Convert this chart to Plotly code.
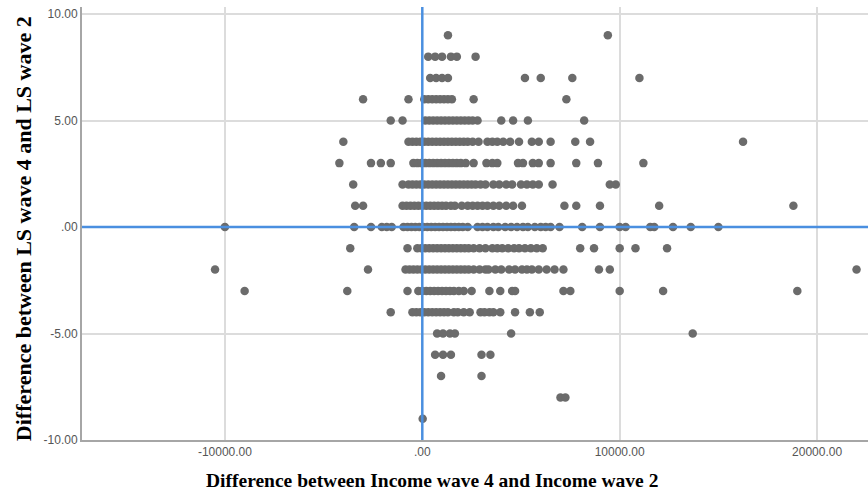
import plotly.graph_objects as go

# Income differences (wave 4 - wave 2), grouped by the LS difference (wave 4 - wave 2)
ls_p9 = [1300, 9400]
ls_p8 = [300, 650, 1000, 1450, 1750, 2700]
ls_p7 = [400, 700, 1000, 1300, 5200, 6000, 7600, 11000]
ls_p6 = [-3000, -700, 100, 300, 500, 700, 900, 1100, 1300, 1500, 2600, 7300]
ls_p5 = [-1600, -1000, 150, 350, 550, 750, 950, 1150, 1350, 1550, 1750, 1950,
         2150, 2350, 2550, 2800, 4000, 4600, 5350, 8200]
ls_p4 = [-4000, -700, -500, -300, -100, 100, 300, 500, 700, 900, 1100, 1300,
         1500, 1700, 1900, 2100, 2300, 2550, 2850, 3300, 3550, 3800, 4100, 4450,
         4900, 5550, 5900, 6500, 7750, 8500, 16250]
ls_p3 = [-4200, -2600, -2100, -1600, -450, -250, -50, 150, 350, 550, 750, 950,
         1150, 1350, 1550, 1750, 1950, 2200, 2600, 3250, 3550, 3800, 4850, 5100,
         5600, 5900, 6500, 7800, 8900, 11200]
ls_p2 = [-3500, -1000, -700, -500, -300, -100, 100, 300, 500, 700, 900, 1100,
         1300, 1500, 1700, 1900, 2100, 2300, 2500, 2700, 2950, 3200, 3600, 3900,
         4250, 4550, 5000, 5300, 5600, 5900, 6600, 9500, 9800]
ls_p1 = [-3400, -3000, -1000, -800, -600, -400, -200, 0, 200, 400, 600, 800,
         1000, 1200, 1450, 1650, 2000, 2300, 2550, 2800, 3050, 3300, 3600, 3900,
         4250, 4600, 5050, 7200, 7800, 9000, 12000, 18800]
ls_0 = [-10000, -3450, -2600, -2050, -1800, -1550, -950, -750, -550, -350, -150,
        50, 250, 450, 650, 850, 1050, 1250, 1450, 1650, 1850, 2050, 2300, 2800,
        3050, 3300, 3600, 3850, 4200, 4500, 4800, 5100, 5350, 5700, 6000, 6250,
        6500, 6950, 8100, 9000, 10000, 10300, 11550, 11750, 12700, 13600, 15000]
ls_m1 = [-3650, -750, -250, -50, 150, 350, 550, 750, 950, 1150, 1350, 1550, 1750,
         1950, 2150, 2350, 2600, 2900, 3200, 3550, 3800, 4050, 4350, 4650, 4900,
         5200, 5500, 5800, 6100, 8000, 8700, 10000, 10800, 12400]
ls_m2 = [-10500, -2750, -850, -650, -450, -250, -50, 150, 350, 550, 750, 950,
         1150, 1350, 1550, 1750, 1950, 2150, 2350, 2600, 2900, 3200, 3350, 3700,
         4000, 4400, 4700, 5050, 5300, 5550, 5900, 6300, 6700, 7150, 8950, 9500,
         22000]
ls_m3 = [-9000, -3800, -750, -200, 0, 200, 400, 600, 800, 1000, 1200, 1400, 1600,
         1850, 2100, 2500, 3400, 3950, 4550, 4700, 7150, 7500, 10000, 12200, 19000]
ls_m4 = [-1600, -500, -300, -100, 100, 300, 500, 700, 900, 1100, 1300, 1600,
         1800, 2100, 2400, 2950, 3150, 3400, 3600, 3950, 4700, 5450, 5950]
ls_m5 = [750, 1050, 1400, 1650, 4500, 13700]
ls_m6 = [650, 1050, 1450, 3000, 3450]
ls_m7 = [950, 3000]
ls_m8 = [7000, 7250]
ls_m9 = [20]

ls_levels = [9, 8, 7, 6, 5, 4, 3, 2, 1, 0, -1, -2, -3, -4, -5, -6, -7, -8, -9]
income_rows = [ls_p9, ls_p8, ls_p7, ls_p6, ls_p5, ls_p4, ls_p3, ls_p2, ls_p1, ls_0,
               ls_m1, ls_m2, ls_m3, ls_m4, ls_m5, ls_m6, ls_m7, ls_m8, ls_m9]

x_ticks = [-10000, 0, 10000, 20000]
x_tick_text = ["-10000.00", ".00", "10000.00", "20000.00"]
y_ticks = [-10, -5, 0, 5, 10]
y_tick_text = ["-10.00", "-5.00", ".00", "5.00", "10.00"]

income_diff = []
ls_diff = []
for level, row in zip(ls_levels, income_rows):
    income_diff.extend(row)
    ls_diff.extend([level] * len(row))

fig = go.Figure()
fig.add_trace(go.Scatter(
    x=income_diff, y=ls_diff, mode="markers",
    marker=dict(color="#6b6b6b", size=8.5, line=dict(width=0)),
    showlegend=False, hoverinfo="x+y",
))

# Reference lines at zero on both axes
fig.add_vline(x=0, line=dict(color="#4a8fe0", width=2.5), layer="above")
fig.add_hline(y=0, line=dict(color="#4a8fe0", width=2.5), layer="above")

tick_font = dict(family="Liberation Sans, Arial, sans-serif", size=12, color="#555555")
fig.update_xaxes(
    range=[-17240, 22580], tickvals=x_ticks, ticktext=x_tick_text,
    showgrid=True, gridcolor="#dcdcdc", gridwidth=1.5,
    showline=True, linecolor="#a6a6a6", linewidth=2,
    zeroline=False, ticks="", tickfont=tick_font,
)
fig.update_yaxes(
    range=[-10, 10.33], tickvals=y_ticks, ticktext=y_tick_text,
    showgrid=True, gridcolor="#dcdcdc", gridwidth=1.5,
    showline=True, linecolor="#a6a6a6", linewidth=2,
    zeroline=False, ticks="", tickfont=tick_font,
)

serif = "Liberation Serif, Times New Roman, serif"
fig.add_annotation(
    text="<b>Difference between Income wave 4 and Income wave 2</b>",
    xref="paper", yref="paper", x=(432 - 82) / (868 - 82), y=-0.094,
    xanchor="center", yanchor="middle", showarrow=False,
    font=dict(family=serif, size=19.5, color="#000000"),
)
fig.add_annotation(
    text="<b>Difference between LS wave 4 and LS wave 2</b>",
    xref="paper", yref="paper", x=(23 - 82) / (868 - 82), y=0.487, textangle=-90,
    xanchor="center", yanchor="middle", showarrow=False,
    font=dict(family=serif, size=22, color="#000000"),
)

fig.update_layout(
    width=868, height=499,
    margin=dict(l=82, r=0, t=7, b=59),
    plot_bgcolor="#ffffff", paper_bgcolor="#ffffff",
)

fig.write_html("out.html")
